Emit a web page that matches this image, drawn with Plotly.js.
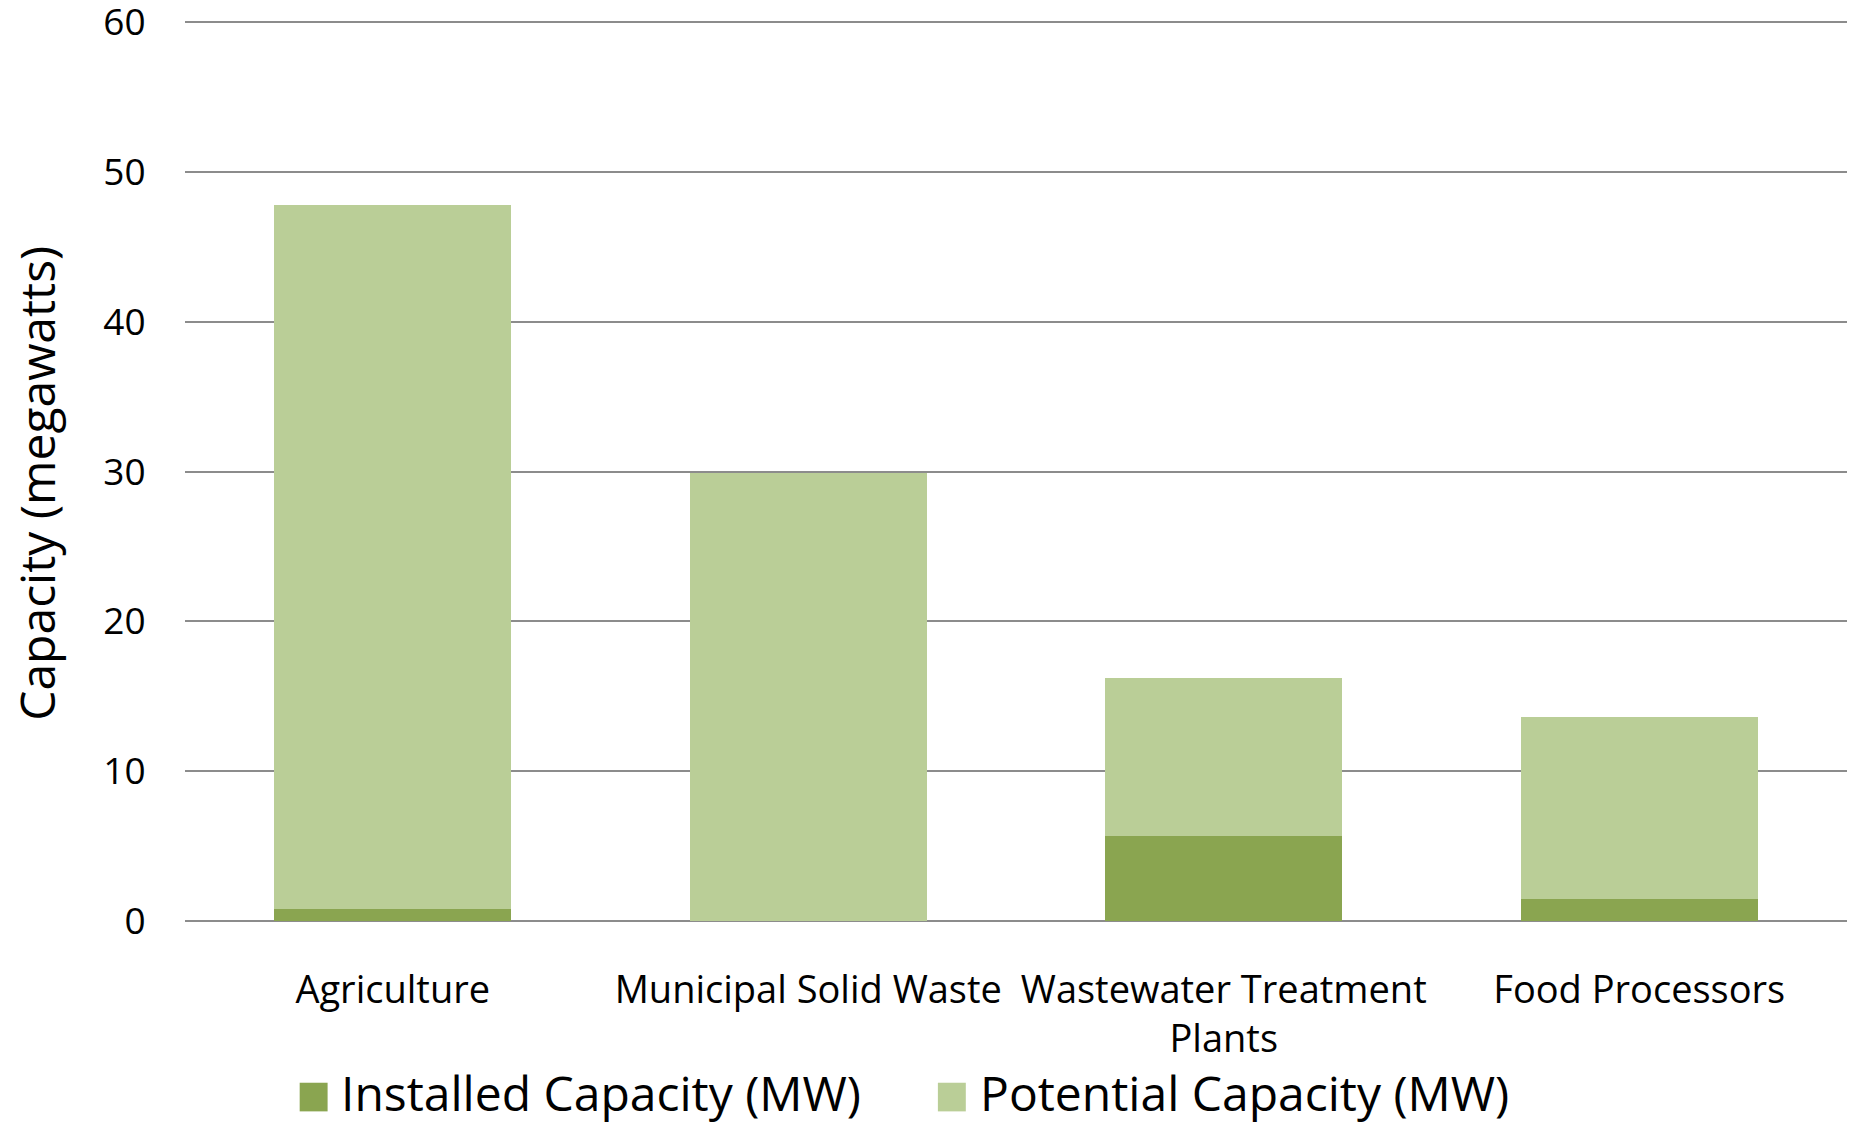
<!DOCTYPE html>
<html>
<head>
<meta charset="utf-8">
<script src="https://cdn.plot.ly/plotly-3.0.1.min.js"></script>
<style>html,body{margin:0;padding:0;background:#fff;}#chart{width:1860px;height:1124px;}</style>
</head>
<body>
<div id="chart"></div>
<script>
const categories = ["Agriculture", "Municipal Solid Waste", "Wastewater Treatment<br>Plants", "Food Processors"];
const installed = [0.8, 0, 5.7, 1.5];
const potential = [47.0, 29.9, 10.5, 12.1];
const seriesNames = ["Installed Capacity (MW)", "Potential Capacity (MW)"];
const seriesColors = ["#8aa550", "#bace97"];
const yTicks = [0, 10, 20, 30, 40, 50, 60];
const yTitle = "Capacity (megawatts)";

const FONT = "Open Sans, Noto Sans, sans-serif";

const traces = [
  {type: "bar", x: categories, y: installed, name: seriesNames[0], marker: {color: seriesColors[0]}, showlegend: false},
  {type: "bar", x: categories, y: potential, name: seriesNames[1], marker: {color: seriesColors[1]}, showlegend: false}
];

// manual legend (large square swatches)
const legendX = [0.069, 0.453];
const shapes = [];
const annotations = [];
seriesNames.forEach((n, i) => {
  shapes.push({type: "rect", xref: "paper", yref: "paper", x0: legendX[i], x1: legendX[i] + 0.0168, y0: -0.1795, y1: -0.2113, fillcolor: seriesColors[i], line: {width: 0}});
  annotations.push({xref: "paper", yref: "paper", x: legendX[i] + 0.0245, y: -0.1905, xanchor: "left", yanchor: "middle", borderpad: 0, text: n, showarrow: false, font: {family: FONT, size: 48, color: "#000"}});
});
annotations.push({xref: "paper", yref: "paper", x: -0.0895, y: 0.4855, xanchor: "center", yanchor: "middle", textangle: -90, text: yTitle, showarrow: false, font: {family: FONT, size: 48, color: "#000"}});

const layout = {
  width: 1860, height: 1124,
  margin: {l: 185, r: 13, t: 20, b: 203},
  paper_bgcolor: "#fff", plot_bgcolor: "#fff",
  barmode: "stack",
  bargap: 0.43,
  showlegend: false,
  font: {family: FONT, color: "#000"},
  xaxis: {
    type: "category",
    tickfont: {family: FONT, size: 38, color: "#000"},
    ticks: "outside", ticklen: 35, tickcolor: "rgba(0,0,0,0)",
    showgrid: false, zeroline: false, showline: false,
    automargin: false
  },
  yaxis: {
    range: [0, 60.15],
    tickvals: yTicks,
    ticktext: yTicks.map(String),
    tickfont: {family: FONT, size: 37, color: "#000"},
    ticklabeloverflow: "allow",
    ticks: "outside", ticklen: 31, tickcolor: "rgba(0,0,0,0)",
    showgrid: true, gridcolor: "#8c8c8c", gridwidth: 2,
    zeroline: true, zerolinecolor: "#8c8c8c", zerolinewidth: 2,
    showline: false,
    automargin: false
  },
  shapes: shapes,
  annotations: annotations
};

Plotly.newPlot("chart", traces, layout, {displayModeBar: false, staticPlot: true});
</script>
</body>
</html>
